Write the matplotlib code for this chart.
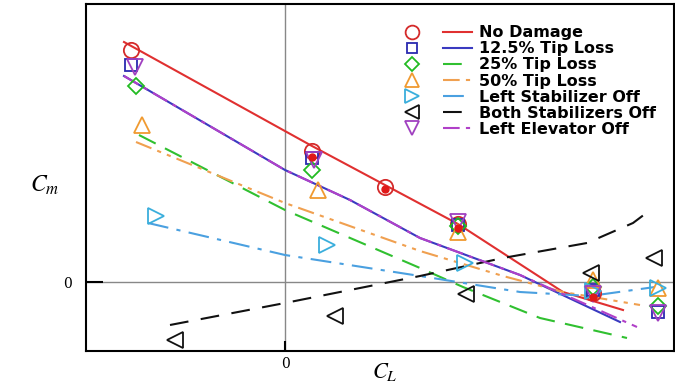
import matplotlib
matplotlib.use("Agg")
import matplotlib.pyplot as plt
from matplotlib.lines import Line2D
from matplotlib.legend_handler import HandlerTuple

plt.rcParams["mathtext.fontset"] = "stix"

# test points (CL, Cm) per configuration
nd_x = [-1.54, 0.27, 1.00, 1.73, 3.08]
nd_y = [2.32, 1.31, 0.95, 0.58, -0.11]
nd_dot_x = [0.27, 1.00, 1.73, 3.08]
nd_dot_y = [1.25, 0.93, 0.54, -0.15]

t125_x = [-1.54, 0.27, 1.73, 3.08, 3.73]
t125_y = [2.17, 1.24, 0.57, -0.08, -0.30]

t25_x = [-1.49, 0.27, 1.73, 3.08, 3.73]
t25_y = [1.96, 1.12, 0.56, -0.05, -0.24]

t50_x = [-1.43, 0.33, 1.73, 3.08, 3.73]
t50_y = [1.57, 0.92, 0.50, 0.02, -0.06]

ls_x = [-1.29, 0.42, 1.80, 3.08, 3.73]
ls_y = [0.66, 0.37, 0.19, -0.09, -0.06]

bs_x = [-1.10, 0.50, 1.81, 3.06, 3.69]
bs_y = [-0.58, -0.34, -0.12, 0.09, 0.24]

le_x = [-1.50, 0.29, 1.73, 3.08, 3.73]
le_y = [2.15, 1.22, 0.60, -0.12, -0.31]

# model curves
nd_cx = [-1.61, 0.27, 1.73, 2.78, 3.38]
nd_cy = [2.40, 1.36, 0.58, -0.10, -0.28]

t125_cx = [-1.61, 0.0, 0.65, 1.35, 2.35, 3.35]
t125_cy = [2.06, 1.12, 0.82, 0.44, 0.07, -0.40]

t25_cx = [-1.46, 0.0, 1.35, 1.78, 2.55, 3.42]
t25_cy = [1.47, 0.72, 0.14, -0.05, -0.36, -0.56]

t50_cx = [-1.49, 0.0, 1.35, 2.18, 2.78, 3.55]
t50_cy = [1.40, 0.79, 0.31, 0.06, -0.10, -0.23]

ls_cx = [-1.37, 0.0, 1.35, 2.35, 3.05, 3.70]
ls_cy = [0.59, 0.27, 0.06, -0.10, -0.14, -0.05]

bs_cx = [-1.15, 0.0, 1.35, 2.18, 3.02, 3.48, 3.60]
bs_cy = [-0.43, -0.21, 0.06, 0.24, 0.39, 0.59, 0.68]

le_cx = [-1.61, 0.0, 0.65, 1.35, 2.35, 3.52]
le_cy = [2.06, 1.12, 0.82, 0.44, 0.07, -0.45]

labels = ["No Damage", "12.5% Tip Loss", "25% Tip Loss", "50% Tip Loss",
          "Left Stabilizer Off", "Both Stabilizers Off", "Left Elevator Off"]

fig = plt.figure(figsize=(6.75, 3.87), dpi=100)
ax = fig.add_axes([86 / 675, 1 - 351 / 387, 588 / 675, 347 / 387])

ax.axhline(0, color="#888888", lw=1.0, zorder=1)
ax.axvline(0, color="#888888", lw=1.0, zorder=1)

series = [
    (nd_x, nd_y, nd_cx, nd_cy, "o", "#d42a2a", "#e03030", "-"),
    (t125_x, t125_y, t125_cx, t125_cy, "s", "#2a2ab0", "#3a3ac0", "-"),
    (t25_x, t25_y, t25_cx, t25_cy, "D", "#22bb22", "#30c030", (0, (9, 5))),
    (t50_x, t50_y, t50_cx, t50_cy, "^", "#f09a30", "#f0a050", (0, (8, 3, 2, 3, 2, 3))),
    (ls_x, ls_y, ls_cx, ls_cy, ">", "#3aaedc", "#4aa0e0", (0, (10, 4, 2, 4))),
    (bs_x, bs_y, bs_cx, bs_cy, "<", "#111111", "#111111", (0, (9, 6))),
    (le_x, le_y, le_cx, le_cy, "v", "#a040c0", "#b040c8", (0, (8, 3, 2, 3))),
]

handles = []
for px, py, cx, cy, mk, mc, lc, ls in series:
    msize = 11
    if mk == "s":
        msize = 8.5
    if mk == "D":
        msize = 8
    ax.plot(cx, cy, color=lc, ls=ls, lw=1.5, zorder=2)
    ax.plot(px, py, ls="none", marker=mk, ms=msize, mfc="none", mec=mc,
            mew=1.3, zorder=3)
    hm = Line2D([], [], ls="none", marker=mk, ms=msize * 0.9, mfc="none", mec=mc, mew=1.3)
    hl = Line2D([], [], color=lc, ls=ls, lw=1.5)
    handles.append((hm, hl))

ax.plot(nd_dot_x, nd_dot_y, ls="none", marker="o", ms=5, color="#e01818", zorder=4)

ax.legend(handles, labels, handler_map={tuple: HandlerTuple(ndivide=None, pad=1.03)},
          loc="upper left", bbox_to_anchor=(0.516, 0.962), frameon=False,
          borderpad=0, handlelength=4.66, handletextpad=0.44, labelspacing=0.07,
          prop={"family": "DejaVu Sans", "weight": "bold", "size": 11.5})

ax.set_xlim(-1.99, 3.89)
ax.set_ylim(-0.69, 2.78)

ax.set_xticks([0])
ax.set_yticks([0])
ax.set_xticklabels(["0"], family="DejaVu Serif", fontsize=10)
ax.set_yticklabels(["0"], family="DejaVu Serif", fontsize=10)
ax.tick_params(axis="x", direction="in", length=7, width=1.5, pad=4)
ax.tick_params(axis="y", direction="in", length=12, width=1.5, pad=10)

for sp in ax.spines.values():
    sp.set_linewidth(1.5)

ax.set_xlabel(r"$C_L$", fontsize=16)
ax.xaxis.set_label_coords(0.508, -0.03)
ax.set_ylabel(r"$C_m$", fontsize=17, rotation=0, va="center")
ax.yaxis.set_label_coords(-0.07, 0.478)

fig.savefig("out.png", dpi=100)
